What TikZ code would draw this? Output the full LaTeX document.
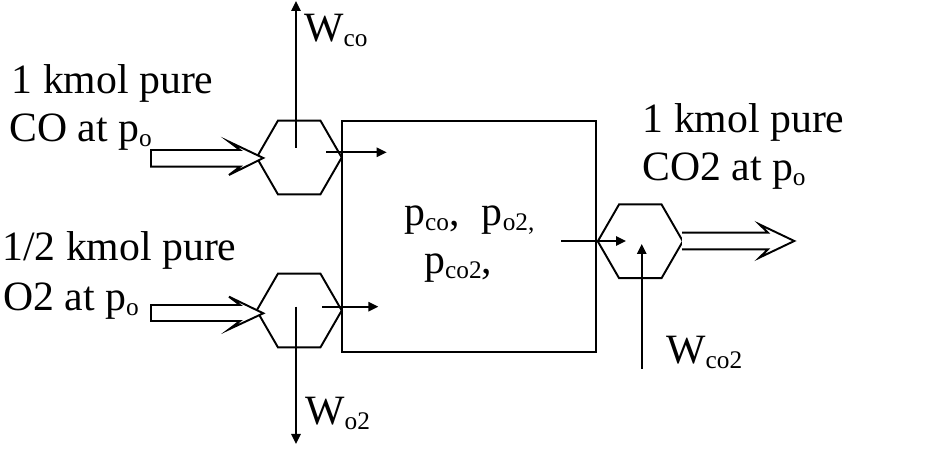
\documentclass[tikz,border=0pt]{standalone}
\usepackage{fontspec}
\setmainfont{Liberation Serif}
\usetikzlibrary{arrows.meta,shapes.geometric}
\newcommand{\subtxt}[1]{\raisebox{-3.2pt}{\fontsize{19pt}{20pt}\selectfont #1}}
\tikzset{
  x=0.75pt,y=-0.75pt,
  lbl/.style={anchor=base west,inner sep=0pt,font=\fontsize{31.3pt}{34pt}\selectfont},
  hexa/.style={draw,line width=1.45pt,regular polygon,regular polygon sides=6,minimum size=63.8pt,inner sep=0pt},
  chamber/.style={draw,line width=1.45pt,rectangle,inner sep=0pt,minimum width=190.8pt,minimum height=173.6pt},
  flow/.style={line width=1.35pt,-{Triangle[length=7.5pt,width=7pt]}},
  hollow/.style={line width=1.45pt,fill=white,miter limit=10}
}
\begin{document}
\begin{tikzpicture}
\useasboundingbox (0,0) rectangle (925,459);
\node[chamber] (box) at (469.2,236.4) {};
\node[hexa] (hexco) at (299.2,157.5) {};
\node[hexa] (hexo) at (299.2,310.5) {};
\node[hexa] (hexout) at (640.3,241.3) {};
% hollow flow arrows
\draw[hollow] (151,150) -- (240,150) -- (229,141.7) -- (263.3,158) -- (229,175) -- (240,166.7) -- (151,166.7) -- cycle;
\draw[hollow] (151,305) -- (240,305) -- (229,296.7) -- (263.3,313.3) -- (229,329.3) -- (240,321) -- (151,321) -- cycle;
\draw[hollow] (682,232.7) -- (768,232.7) -- (759.3,224.3) -- (794.3,241) -- (759.3,257.7) -- (768,249.3) -- (682,249.3);
% free ends
\coordinate (a1) at (326,152.3);
\coordinate (a2) at (386.7,152.3);
\coordinate (b1) at (322,306.7);
\coordinate (b2) at (378.3,306.7);
\coordinate (c1) at (561,241);
\coordinate (c2) at (626,241);
\coordinate (d1) at (641.7,369);
\coordinate (d2) at (641.7,244);
\coordinate (e1) at (296,148);
\coordinate (e2) at (296,1);
\coordinate (f1) at (296,306.7);
\coordinate (f2) at (296,444);
\draw[flow] (a1) -- (a2);
\draw[flow] (b1) -- (b2);
\draw[flow] (c1) -- (c2);
\draw[flow] (d1) -- (d2);
\draw[flow] (e1) -- (e2);
\draw[flow] (f1) -- (f2);
% labels
\node[lbl] (t1) at (11.5,94) {1 kmol pure};
\node[lbl] (t2) at (9,142) {CO at p\subtxt{o}};
\node[lbl] (t3) at (2,261) {1/2 kmol pure};
\node[lbl] (t4) at (3,311) {O2 at p\subtxt{o}};
\node[lbl] (t5) at (642.5,133) {1 kmol pure};
\node[lbl] (t6) at (642,181) {CO2 at p\subtxt{o}};
\node[lbl] (t7) at (304,42) {W\subtxt{co}};
\node[lbl] (t8) at (305,425) {W\subtxt{o2}};
\node[lbl] (t9) at (666,364) {W\subtxt{co2}};
\node[lbl] (t10) at (404,226) {p\subtxt{co},\hspace{9pt} p\subtxt{o2,}};
\node[lbl] (t11) at (424,274) {p\subtxt{co2},};
\end{tikzpicture}
\end{document}
